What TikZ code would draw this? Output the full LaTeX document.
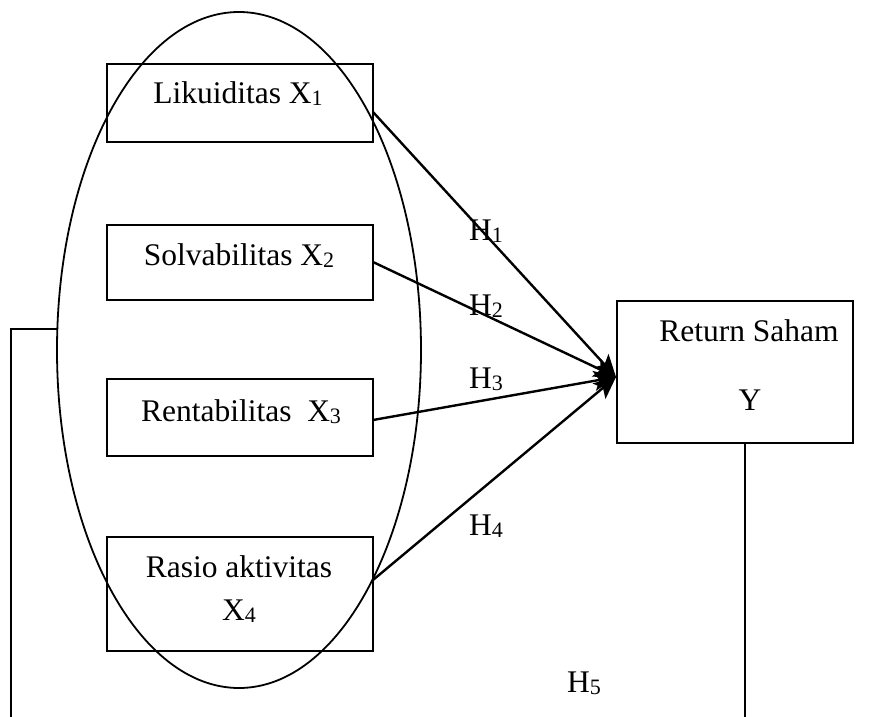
\documentclass[tikz,border=0pt]{standalone}
\usepackage{fontspec}
\setmainfont{Liberation Serif}
\usetikzlibrary{shapes.geometric,arrows.meta}
\newcommand{\subidx}[1]{\raisebox{-2pt}{\fontsize{22}{22}\selectfont #1}}
\begin{document}
\begin{tikzpicture}[x=1pt,y=-1pt,
  every node/.style={font=\fontsize{31.5}{38}\selectfont},
  varbox/.style={draw, line width=1.8pt, rectangle, inner sep=0pt},
  lbl/.style={anchor=base, inner sep=0pt},
  hlbl/.style={anchor=base west, inner sep=0pt},
  arr/.style={line width=2.4pt, -{Stealth[length=22pt,width=20pt,inset=5pt]}},
  link/.style={line width=1.6pt}]
\useasboundingbox (0,0) rectangle (873,717);

% independent variables
\node[varbox, minimum width=266pt, minimum height=78pt] (b1) at (240,103) {};
\node[varbox, minimum width=266pt, minimum height=75pt] (b2) at (240,262.5) {};
\node[varbox, minimum width=266pt, minimum height=77pt] (b3) at (240,417.5) {};
\node[varbox, minimum width=266pt, minimum height=114pt] (b4) at (240,594) {};

\node[lbl] (t1) at (238,103) {Likuiditas X\subidx{1}};
\node[lbl] (t2) at (239,265) {Solvabilitas X\subidx{2}};
\node[lbl] (t3) at (241,421) {Rentabilitas\ \ X\subidx{3}};
\node[lbl] (t4a) at (239,577) {Rasio aktivitas};
\node[lbl] (t4b) at (239,620) {X\subidx{4}};

% grouping ellipse
\node[draw, ellipse, line width=1.8pt, inner sep=0pt,
      minimum width=364pt, minimum height=676pt] (ell) at (239,350) {};

% dependent variable
\node[varbox, minimum width=236pt, minimum height=142pt] (ret) at (735,372) {};
\node[lbl] (tr) at (749,341) {Return Saham};
\node[lbl] (ty) at (750,410) {Y};

% hypothesis arrows
\coordinate (tip) at (616,377);
\coordinate (s1) at (373,112);
\coordinate (s2) at (373,262);
\coordinate (s3) at (373,420);
\coordinate (s4) at (373,580);
\draw[arr] (s1) -- (tip);
\draw[arr] (s2) -- (tip);
\draw[arr] (s3) -- (tip);
\draw[arr] (s4) -- (tip);

\node[hlbl] (h1) at (469,240) {H\subidx{1}};
\node[hlbl] (h2) at (469,315) {H\subidx{2}};
\node[hlbl] (h3) at (469,388) {H\subidx{3}};
\node[hlbl] (h4) at (469,535) {H\subidx{4}};
\node[hlbl] (h5) at (567,692) {H\subidx{5}};

% H5 link lines
\coordinate (e1) at (57.5,329);
\coordinate (c1) at (11,329);
\coordinate (c2) at (11,717);
\coordinate (rb) at (745,443);
\coordinate (c3) at (745,717);
\draw[link] (e1) -- (c1) -- (c2);
\draw[link] (rb) -- (c3);
\end{tikzpicture}
\end{document}
